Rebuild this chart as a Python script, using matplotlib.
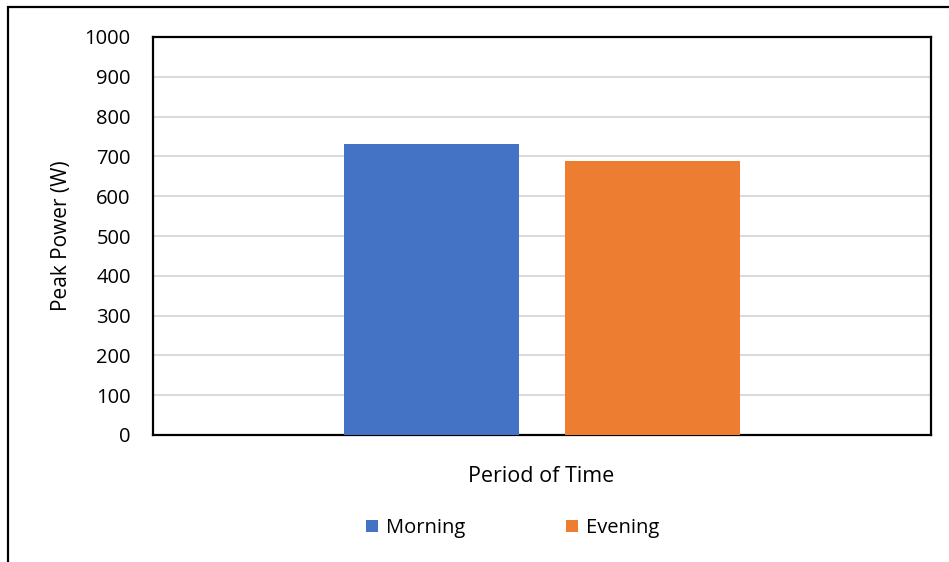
import matplotlib

matplotlib.use("Agg")
import matplotlib.pyplot as plt
from matplotlib.patches import Rectangle

# Peak power per period
series_names = ["Morning", "Evening"]
series_values = [731, 688]
series_colors = ["#4472c4", "#ed7d31"]
y_ticks = [0, 100, 200, 300, 400, 500, 600, 700, 800, 900, 1000]

plt.rcParams["font.family"] = ["Open Sans", "DejaVu Sans"]

W, H = 949, 562
fig = plt.figure(figsize=(W / 100, H / 100), dpi=100)

# outer chart border (left and top visible, runs off the right/bottom)
fig.patches.append(Rectangle((8 / W, -0.05), 1.2, (H - 7) / H + 0.05,
                             transform=fig.transFigure, fill=False,
                             edgecolor="black", linewidth=1.6))

ax = fig.add_axes([153 / W, (H - 435) / H, (931 - 153) / W, (435 - 37) / H])

bar_width = 0.225
offsets = [-0.142, 0.142]
for name, value, color, off in zip(series_names, series_values, series_colors, offsets):
    ax.bar(off, value, width=bar_width, color=color, label=name, zorder=3)

ax.set_xlim(-0.5, 0.5)
ax.set_ylim(0, 1000)
ax.set_yticks(y_ticks)
ax.set_yticklabels([str(t) for t in y_ticks], fontsize=14.5)
ax.set_xticks([])
ax.tick_params(axis="y", length=0, pad=16)
ax.grid(axis="y", color="#d9d9d9", linewidth=1.4, zorder=0)
for spine in ax.spines.values():
    spine.set_linewidth(1.6)
    spine.set_color("black")

ax.set_ylabel("Peak Power (W)", fontsize=15, labelpad=9)
fig.text(541 / W, 1 - 477 / H, "Period of Time", ha="center", va="center", fontsize=15.5)

fig.legend(loc="center", bbox_to_anchor=(513 / W, 1 - 528 / H), ncol=2,
           frameon=False, fontsize=14.5, handlelength=0.6, handleheight=0.6,
           handletextpad=0.4, columnspacing=5.0)

fig.savefig("out.png", dpi=100)
